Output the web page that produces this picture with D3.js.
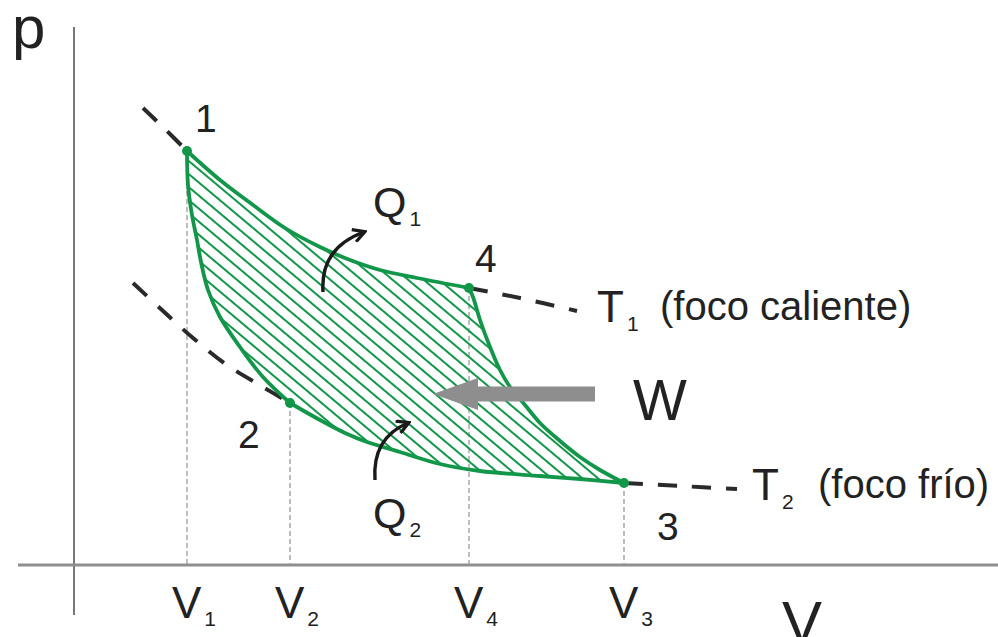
<!DOCTYPE html>
<html>
<head>
<meta charset="utf-8">
<script src="https://cdn.jsdelivr.net/npm/d3@7"></script>
<style>
  html, body { margin: 0; padding: 0; background: #fff; }
  svg { display: block; font-family: "Liberation Sans", Arial, sans-serif; }
</style>
</head>
<body>
<svg width="998" height="637"></svg>
<script>
// volume / pressure in arbitrary units
const stateNames = ["1", "2", "3", "4"];
const stateV = [114, 217, 551, 396];
const stateP = [414, 162, 82, 277];

// isotherm T1 (1 -> 4)
const isoHotV = [114, 147, 180, 212, 247, 277, 307, 344, 396];
const isoHotP = [414, 385, 360, 337, 318, 305, 295, 287, 277];
// adiabat 4 -> 3
const adiaRightV = [396, 400, 407, 417, 427, 437, 452, 467, 487, 507, 527, 551];
const adiaRightP = [277, 268, 245, 218, 195, 178, 160, 142, 124, 108, 95, 82];
// isotherm T2 (2 -> 3)
const isoColdV = [217, 247, 272, 294, 327, 367, 407, 467, 507, 551];
const isoColdP = [162, 145, 132, 123, 113, 101, 94, 89, 86, 82];
// adiabat 1 -> 2
const adiaLeftV = [114, 115, 119, 124, 128, 135, 147, 167, 190, 217];
const adiaLeftP = [414, 380, 350, 325, 303, 275, 248, 218, 188, 162];

// dashed continuations of the isotherms
const hotExtLeftV = [70, 92, 114];
const hotExtLeftP = [457, 436, 414];
const hotExtRightV = [396, 447, 504];
const hotExtRightP = [277, 267, 254];
const coldExtLeftV = [60, 89, 120, 154, 190, 217];
const coldExtLeftP = [282, 255, 227, 200, 178, 162];
const coldExtRightV = [551, 607, 664];
const coldExtRightP = [82, 79, 76];

// volume tick labels (under the dashed lines)
const tickNames = ["1", "2", "4", "3"];
const tickV = [114, 217, 396, 551];

const svg = d3.select("svg");
const green = "#12974a";

const x = d3.scaleLinear().domain([0, 925]).range([73, 998]);
const y = d3.scaleLinear().domain([0, 540]).range([565, 25]);

const zip = (vs, ps) => vs.map((v, i) => [v, ps[i]]);

const line = d3.line()
  .x(d => x(d[0]))
  .y(d => y(d[1]))
  .curve(d3.curveCatmullRom.alpha(0.5));

// defs: hatch + arrow head
const defs = svg.append("defs");
const hatch = defs.append("pattern")
  .attr("id", "hatch")
  .attr("patternUnits", "userSpaceOnUse")
  .attr("width", 10).attr("height", 10)
  .attr("patternTransform", "rotate(40)");
hatch.append("line")
    .attr("x1", 0).attr("y1", 2).attr("x2", 10).attr("y2", 2)
    .attr("stroke", green).attr("stroke-width", 2);

defs.append("marker")
  .attr("id", "head")
  .attr("viewBox", "0 0 14 14")
  .attr("refX", 11).attr("refY", 7)
  .attr("markerWidth", 15).attr("markerHeight", 15)
  .attr("markerUnits", "userSpaceOnUse")
  .attr("orient", "auto")
  .append("path")
    .attr("d", "M1,1 L12,7 L1,13")
    .attr("fill", "none")
    .attr("stroke", "#1a1a1a")
    .attr("stroke-width", 3);

// axes
svg.append("line")
  .attr("x1", x(1)).attr("x2", x(1))
  .attr("y1", y(538)).attr("y2", y(-50))
  .attr("stroke", "#555").attr("stroke-width", 1.6);
svg.append("line")
  .attr("x1", x(-55)).attr("x2", x(925))
  .attr("y1", y(0)).attr("y2", y(0))
  .attr("stroke", "#8f8f8f").attr("stroke-width", 3);

svg.append("text").attr("x", 12).attr("y", 48)
  .attr("font-size", 60).attr("fill", "#222").text("p");
svg.append("text").attr("x", 782).attr("y", 643)
  .attr("font-size", 60).attr("fill", "#222").text("V");

// dashed volume guides
svg.append("g").selectAll("line")
  .data(tickV)
  .join("line")
    .attr("x1", d => x(d)).attr("x2", d => x(d))
    .attr("y1", d => y(stateP[stateV.indexOf(d)]))
    .attr("y2", y(0))
    .attr("stroke", "#9a9a9a").attr("stroke-width", 1.3)
    .attr("stroke-dasharray", "5,3");

// hatched cycle
const segs = [
  zip(isoHotV, isoHotP),
  zip(adiaRightV, adiaRightP),
  zip(isoColdV, isoColdP).reverse(),
  zip(adiaLeftV, adiaLeftP).reverse()
];
const cycleD = segs.map((s, i) => i === 0 ? line(s) : line(s).replace(/^M/, "L")).join("") + "Z";
svg.append("path")
  .attr("d", cycleD)
  .attr("fill", "url(#hatch)");

// isotherm continuations
svg.append("g").selectAll("path")
  .data([
    zip(hotExtLeftV, hotExtLeftP), zip(hotExtRightV, hotExtRightP),
    zip(coldExtLeftV, coldExtLeftP), zip(coldExtRightV, coldExtRightP)
  ])
  .join("path")
    .attr("d", line)
    .attr("fill", "none")
    .attr("stroke", "#2a2a2a")
    .attr("stroke-width", 4)
    .attr("stroke-dasharray", "19,15");

// cycle outline
svg.append("g").selectAll("path")
  .data(segs)
  .join("path")
    .attr("d", line)
    .attr("fill", "none")
    .attr("stroke", green)
    .attr("stroke-width", 3.8)
    .attr("stroke-linejoin", "round");

// state points
svg.append("g").selectAll("circle")
  .data(stateV)
  .join("circle")
    .attr("cx", d => x(d))
    .attr("cy", (d, i) => y(stateP[i]))
    .attr("r", 5)
    .attr("fill", green);

// state labels
const stateLabelV = [122, 165, 584, 402];
const stateLabelP = [433, 117, 25, 293];
svg.append("g").selectAll("text")
  .data(stateNames)
  .join("text")
    .attr("x", (d, i) => x(stateLabelV[i]))
    .attr("y", (d, i) => y(stateLabelP[i]))
    .attr("font-size", 39)
    .attr("fill", "#222")
    .text(d => d);

// volume tick labels
const ticks = svg.append("g").selectAll("text")
  .data(tickNames)
  .join("text")
    .attr("x", (d, i) => x(tickV[i]) - 15)
    .attr("y", 618)
    .attr("font-size", 44)
    .attr("fill", "#222");
ticks.append("tspan").text("V");
ticks.append("tspan").attr("font-size", 21).attr("dx", 3).attr("dy", 8).text(d => d);

// subscripted labels
function subLabel(v, p, main, sub, size) {
  const t = svg.append("text")
    .attr("x", x(v)).attr("y", y(p))
    .attr("font-size", size).attr("fill", "#222");
  t.append("tspan").text(main);
  t.append("tspan").attr("font-size", 21).attr("dx", 3).attr("dy", 9).text(sub);
  return t;
}
subLabel(524, 243, "T", "1", 44);
subLabel(679, 65, "T", "2", 44);
subLabel(300, 348, "Q", "1", 43);
subLabel(300, 37, "Q", "2", 43);

svg.append("text").attr("x", x(587)).attr("y", y(245))
  .attr("font-size", 40).attr("fill", "#222").text("(foco caliente)");
svg.append("text").attr("x", x(745)).attr("y", y(67))
  .attr("font-size", 40).attr("fill", "#222").text("(foco frío)");
svg.append("text").attr("x", x(560)).attr("y", y(145))
  .attr("font-size", 57).attr("fill", "#222").text("W");

// heat arrows
const heatArrows = [
  { from: [250, 273], ctrl: [247, 317], to: [291, 333] },
  { from: [302, 85], ctrl: [299, 127], to: [335, 142] }
];
svg.append("g").selectAll("path")
  .data(heatArrows)
  .join("path")
    .attr("d", d => `M${x(d.from[0])},${y(d.from[1])} Q${x(d.ctrl[0])},${y(d.ctrl[1])} ${x(d.to[0])},${y(d.to[1])}`)
    .attr("fill", "none")
    .attr("stroke", "#1a1a1a")
    .attr("stroke-width", 3.4)
    .attr("marker-end", "url(#head)");

// work arrow
const workFrom = [522, 171], workTo = [360, 171];
const wx0 = x(workFrom[0]), wx1 = x(workTo[0]), wy = y(workTo[1]);
const headLen = 45, bodyHalf = 7.5, headHalf = 16;
svg.append("path")
  .attr("d", `M${wx0},${wy - bodyHalf} L${wx1 + headLen},${wy - bodyHalf} L${wx1 + headLen},${wy - headHalf}
    L${wx1},${wy} L${wx1 + headLen},${wy + headHalf} L${wx1 + headLen},${wy + bodyHalf} L${wx0},${wy + bodyHalf}Z`)
  .attr("fill", "#8e8e8e");
</script>
</body>
</html>
